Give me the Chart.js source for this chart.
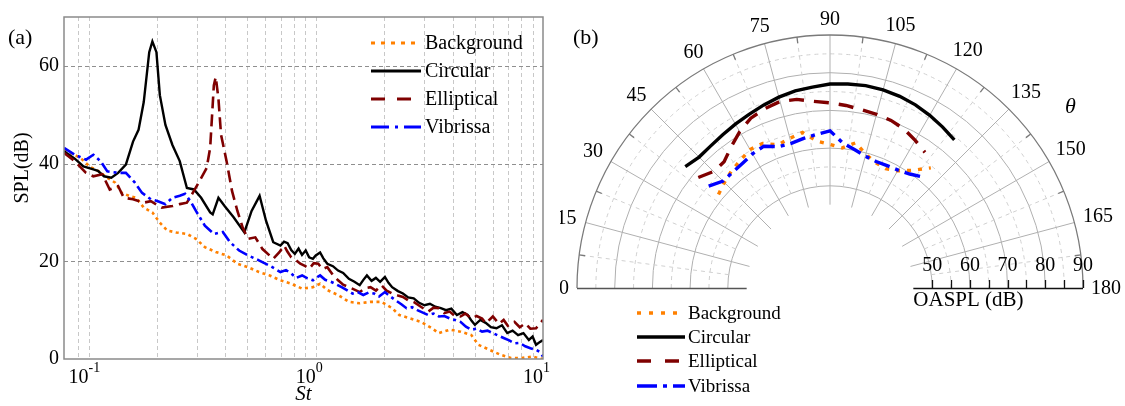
<!DOCTYPE html>
<html>
<head>
<meta charset="utf-8">
<script src="https://cdn.jsdelivr.net/npm/chart.js@4/dist/chart.umd.min.js"></script>
<style>
  html, body { margin: 0; padding: 0; background: #fff; }
  #wrap { position: relative; width: 1125px; height: 406px; }
  #chartA { position: absolute; left: 0; top: 0; }
  #chartB { position: absolute; left: 560px; top: 0; }
</style>
</head>
<body>
<div id="wrap">
  <canvas id="chartA" width="560" height="406"></canvas>
  <canvas id="chartB" width="565" height="406"></canvas>
</div>
<script>
// ---- panel (a): SPL spectra, [St, SPL dB] ----
const backgroundA = [[0.078,42.8],[0.087,41.8],[0.094,40.8],[0.101,39.4],[0.111,38.4],[0.121,37.1],[0.131,36.1],[0.14,34.0],[0.151,33.4],[0.162,33.0],[0.175,31.0],[0.191,30.0],[0.206,27.9],[0.222,26.3],[0.243,25.9],[0.271,25.6],[0.297,24.6],[0.325,22.9],[0.363,21.9],[0.405,21.2],[0.452,19.5],[0.503,18.8],[0.562,17.8],[0.627,17.1],[0.699,16.1],[0.78,15.4],[0.871,14.4],[0.971,14.7],[1.045,15.4],[1.124,14.1],[1.254,13.1],[1.399,11.7],[1.561,11.4],[1.741,11.7],[1.943,11.7],[2.168,10.4],[2.331,9.0],[2.601,8.3],[2.902,7.6],[3.238,6.3],[3.483,5.3],[3.885,6.0],[4.334,5.6],[4.835,4.9],[5.201,2.9],[5.802,1.9],[6.472,0.9],[7.221,0.2],[8.055,0.2],[8.986,0.5],[10,0.0]];
const circularA = [[0.078,42.5],[0.087,41.0],[0.095,39.4],[0.105,38.8],[0.11,38.5],[0.117,37.4],[0.126,37.1],[0.135,38.1],[0.146,39.8],[0.157,44.5],[0.166,46.9],[0.175,52.6],[0.185,62.8],[0.191,65.0],[0.199,62.8],[0.206,54.0],[0.218,47.9],[0.234,43.8],[0.252,40.5],[0.271,35.0],[0.291,34.7],[0.313,33.0],[0.343,30.0],[0.352,29.6],[0.373,33.0],[0.397,31.3],[0.435,29.0],[0.485,25.9],[0.522,30.3],[0.566,33.4],[0.604,28.3],[0.65,23.9],[0.699,23.2],[0.725,24.0],[0.752,23.7],[0.78,22.3],[0.809,21.5],[0.84,22.6],[0.87,21.3],[0.903,22.2],[0.935,20.8],[0.971,20.5],[1.0,21.2],[1.045,21.8],[1.08,20.6],[1.124,19.5],[1.19,19.0],[1.254,18.1],[1.32,17.6],[1.399,16.4],[1.48,15.8],[1.561,15.1],[1.62,16.2],[1.679,17.1],[1.76,16.0],[1.839,16.6],[1.92,15.8],[2.015,16.8],[2.09,15.6],[2.168,14.7],[2.3,13.9],[2.419,13.4],[2.55,12.6],[2.698,12.4],[2.85,11.5],[3.01,11.0],[3.18,11.3],[3.358,10.7],[3.55,10.4],[3.746,10.0],[3.95,10.3],[4.179,9.0],[4.42,9.6],[4.662,9.0],[4.85,7.8],[5.015,7.0],[5.3,8.0],[5.594,7.4],[5.9,6.5],[6.241,6.3],[6.6,6.9],[6.962,5.3],[7.35,5.8],[7.767,4.9],[8.2,5.3],[8.665,3.9],[9.0,4.6],[9.32,2.9],[9.7,3.5],[10,3.9]];
const ellipticalA = [[0.078,42.2],[0.087,40.5],[0.0975,38.1],[0.105,37.4],[0.115,37.8],[0.124,34.7],[0.135,35.4],[0.143,33.0],[0.157,32.7],[0.175,32.0],[0.188,32.3],[0.21,31.0],[0.234,31.3],[0.252,31.7],[0.271,32.0],[0.291,34.4],[0.313,37.0],[0.331,39.1],[0.343,43.2],[0.356,56.0],[0.363,57.7],[0.373,53.3],[0.383,45.9],[0.405,40.5],[0.428,34.4],[0.452,30.3],[0.477,26.9],[0.503,24.6],[0.542,24.9],[0.583,22.5],[0.65,20.5],[0.69,21.8],[0.726,23.2],[0.75,22.0],[0.78,20.8],[0.82,20.2],[0.855,19.5],[0.9,19.0],[0.937,18.5],[0.98,19.6],[1.026,19.5],[1.07,18.4],[1.124,18.8],[1.19,17.2],[1.254,16.1],[1.32,15.2],[1.399,14.7],[1.48,14.2],[1.561,13.7],[1.65,14.5],[1.741,14.7],[1.84,14.0],[1.943,15.1],[2.05,14.0],[2.168,13.4],[2.3,13.0],[2.419,12.7],[2.55,12.0],[2.698,11.7],[2.9,10.7],[3.122,9.7],[3.3,10.5],[3.483,10.4],[3.68,9.4],[3.885,9.7],[4.1,8.8],[4.334,8.7],[4.55,9.3],[4.835,8.3],[5.1,8.8],[5.394,8.3],[5.6,7.3],[6.017,8.7],[6.4,7.2],[6.713,8.0],[7.0,6.8],[7.489,7.6],[7.9,6.5],[8.354,7.3],[8.8,6.2],[9.32,6.3],[10,8.0]];
const vibrissaA = [[0.078,43.2],[0.087,41.8],[0.0975,40.8],[0.105,41.8],[0.113,40.5],[0.121,38.4],[0.135,38.1],[0.146,38.1],[0.16,36.1],[0.172,34.0],[0.188,32.7],[0.202,32.3],[0.218,31.7],[0.234,33.0],[0.252,33.4],[0.266,33.8],[0.281,32.3],[0.297,30.3],[0.325,27.3],[0.356,25.6],[0.39,26.0],[0.42,23.9],[0.46,22.2],[0.503,21.2],[0.562,20.2],[0.627,19.1],[0.699,17.8],[0.74,18.2],[0.78,17.5],[0.82,16.6],[0.871,17.1],[0.92,16.5],[0.971,16.1],[1.0,16.6],[1.045,17.1],[1.1,16.2],[1.166,15.8],[1.23,15.3],[1.3,14.7],[1.37,14.1],[1.451,13.4],[1.53,13.7],[1.619,13.1],[1.71,13.6],[1.806,13.4],[1.9,12.8],[2.015,13.7],[2.13,12.8],[2.248,12.0],[2.38,11.2],[2.508,10.4],[2.65,10.6],[2.798,10.0],[2.96,9.5],[3.122,9.0],[3.3,9.3],[3.483,8.7],[3.68,8.8],[3.885,8.3],[4.1,8.0],[4.334,7.6],[4.58,6.6],[4.835,6.0],[5.1,6.2],[5.394,5.6],[5.7,5.8],[6.017,5.3],[6.35,4.8],[6.713,4.3],[7.1,3.8],[7.489,3.2],[7.9,3.3],[8.354,2.6],[8.8,2.2],[9.32,1.9],[9.7,1.4],[10,0.5]];

const xGridA = [0.09,0.1,0.2,0.3,0.4,0.5,0.6,0.7,0.8,0.9,1,2,3,4,5,6,7,8,9];
const xLabelsA = [[0.1,'-1'],[1,'0'],[10,'1']];
const yGridA = [20,40,60];

// ---- panel (b): directivity, [theta deg, OASPL dB] ----
const backgroundB = [[40,61.5],[45,62.5],[50,63.5],[55,64.3],[60,65.3],[65,65.2],[70,63.3],[75,64.0],[80,64.8],[85,62.0],[90,61.0],[95,60.2],[100,62.0],[105,59.6],[110,58.3],[115,57.8],[120,58.8],[125,61.0],[130,64.5]];
const circularB = [[40,73.0],[45,72.0],[50,72.1],[55,72.5],[60,73.1],[65,73.7],[70,74.5],[75,75.3],[80,76.0],[85,76.4],[90,77.0],[95,77.2],[100,77.4],[105,77.3],[110,77.0],[115,76.5],[120,75.8],[125,75.0],[130,74.2]];
const ellipticalB = [[40,68.5],[45,66.6],[50,66.6],[55,68.6],[60,70.8],[65,72.6],[70,73.5],[75,74.1],[80,73.7],[85,72.6],[90,72.0],[95,71.5],[100,70.9],[105,70.6],[110,70.2],[115,69.4],[120,68.1],[125,66.8]];
const vibrissaB = [[40,64.9],[45,63.0],[50,63.0],[55,63.3],[60,64.0],[65,64.4],[70,62.8],[75,62.6],[80,63.2],[85,63.8],[90,64.6],[95,61.5],[100,60.2],[105,59.1],[110,58.6],[115,58.7],[120,59.0],[125,59.8],[130,61.3]];

const angleTicks = [0,15,30,45,60,75,90,105,120,135,150,165,180];
const ringLevels = [50,55,60,65,70,75,80,85,90];
const oasplTicks = [50,55,60,65,70,75,80,85,90];
const oasplLabels = [50,60,70,80,90];
const R0 = 22.9;          // OASPL at the pole
const rHole = 45, rMax = 90;

const names = ['Background','Circular','Elliptical','Vibrissa'];
const colors = ['#ff8000','#000000','#7f0000','#0000ff'];
const dashA = [[3,3.5],[],[12,6],[12,4,3,4]];
const dashB = [[4,7],[],[15,10],[16,6,4,6]];
const legDashA = [[4,6],[],[14,12],[18,6,3,6]];
const legDashB = [[4,8],[],[14,14],[20,6,4,6]];

const SERIF = "'Liberation Serif', 'Times New Roman', serif";

function drawLegend(ctx, x0, x1, tx, ys, dashes, lw, size) {
  ctx.save();
  ctx.font = size + 'px ' + SERIF;
  ctx.textBaseline = 'middle';
  ctx.textAlign = 'left';
  names.forEach((n, i) => {
    ctx.strokeStyle = colors[i];
    ctx.lineWidth = lw;
    ctx.setLineDash(dashes[i]);
    ctx.beginPath(); ctx.moveTo(x0, ys[i]); ctx.lineTo(x1, ys[i]); ctx.stroke();
    ctx.setLineDash([]);
    ctx.fillStyle = '#000';
    ctx.fillText(n, tx, ys[i] + 1);
  });
  ctx.restore();
}

// ---------- chart (a) ----------
const panelA = {
  id: 'panelA',
  beforeDatasetsDraw(chart) {
    const {ctx, chartArea: a, scales: {x, y}} = chart;
    ctx.save();
    ctx.lineWidth = 1;
    ctx.setLineDash([4, 3]);
    ctx.strokeStyle = '#c8c8c8';
    xGridA.forEach(v => {
      const px = Math.round(x.getPixelForValue(v)) + 0.5;
      ctx.beginPath(); ctx.moveTo(px, a.top); ctx.lineTo(px, a.bottom); ctx.stroke();
    });
    ctx.strokeStyle = '#8f8f8f';
    yGridA.forEach(v => {
      const py = Math.round(y.getPixelForValue(v)) + 0.5;
      ctx.beginPath(); ctx.moveTo(a.left, py); ctx.lineTo(a.right, py); ctx.stroke();
    });
    ctx.restore();
  },
  afterDraw(chart) {
    const {ctx, chartArea: a, scales: {x}} = chart;
    ctx.save();
    ctx.strokeStyle = '#8a8a8a';
    ctx.lineWidth = 1.5;
    ctx.strokeRect(a.left, a.top, a.width, a.height);
    ctx.fillStyle = '#000';
    xLabelsA.forEach(([v, e]) => {
      const px = x.getPixelForValue(v);
      ctx.font = '20px ' + SERIF;
      ctx.textAlign = 'right';
      ctx.textBaseline = 'alphabetic';
      ctx.fillText('10', px, 383);
      ctx.font = '14px ' + SERIF;
      ctx.textAlign = 'left';
      ctx.fillText(e, px, 372);
    });
    ctx.font = 'italic 21px ' + SERIF;
    ctx.textAlign = 'center';
    ctx.textBaseline = 'middle';
    ctx.fillText('St', (a.left + a.right) / 2, 394);
    ctx.font = '20px ' + SERIF;
    ctx.translate(23, 168);
    ctx.rotate(-Math.PI / 2);
    ctx.fillText('SPL(dB)', 0, 0);
    ctx.restore();
    ctx.save();
    ctx.font = '22px ' + SERIF;
    ctx.fillStyle = '#000';
    ctx.textBaseline = 'middle';
    ctx.fillText('(a)', 8, 38);
    ctx.restore();
    drawLegend(ctx, 371, 421, 425, [43, 71, 99, 127], legDashA, 2.8, 20);
  }
};

const seriesA = [backgroundA, circularA, ellipticalA, vibrissaA];
new Chart(document.getElementById('chartA'), {
  type: 'line',
  data: {
    datasets: seriesA.map((s, i) => ({
      label: names[i],
      data: s.map(p => ({x: p[0], y: p[1]})),
      borderColor: colors[i],
      borderWidth: i === 1 ? 2.4 : 2.6,
      borderDash: dashA[i],
      pointRadius: 0,
      tension: 0,
      fill: false
    })).reverse()
  },
  options: {
    responsive: false,
    animation: false,
    layout: {padding: {top: 15, right: 17, left: 0, bottom: 0}},
    plugins: {legend: {display: false}, tooltip: {enabled: false}},
    scales: {
      x: {
        type: 'logarithmic', min: 0.078, max: 10,
        grid: {display: false, drawTicks: false}, border: {display: false},
        ticks: {callback: () => ''},
        afterFit: s => { s.height = 47; }
      },
      y: {
        min: 0, max: 70,
        grid: {display: false, drawTicks: false, tickLength: 0}, border: {display: false},
        ticks: {
          stepSize: 10, padding: 5, color: '#000',
          font: {family: SERIF, size: 20},
          callback: v => (v % 20 === 0 && v < 70) ? String(v) : ''
        },
        afterFit: s => { s.width = 64; }
      }
    }
  },
  plugins: [panelA]
});

// ---------- chart (b) ----------
const toXY = p => {
  const t = p[0] * Math.PI / 180, r = p[1] - R0;
  return {x: -r * Math.cos(t), y: r * Math.sin(t)};
};

const panelB = {
  id: 'panelB',
  beforeDatasetsDraw(chart) {
    const {ctx, scales: {x, y}} = chart;
    const cx = x.getPixelForValue(0), cy = y.getPixelForValue(0);
    const k = x.getPixelForValue(1) - cx;
    const rad = v => (v - R0) * k;
    const pt = (deg, r) => [cx - r * Math.cos(deg * Math.PI / 180), cy - r * Math.sin(deg * Math.PI / 180)];
    ctx.save();
    ctx.lineWidth = 1;
    // rings
    ringLevels.forEach(v => {
      if (v === rMax) return;
      const solid = v % 10 === 0;
      ctx.setLineDash(solid ? [] : [4, 4]);
      ctx.strokeStyle = solid ? '#b0b0b0' : '#d0d0d0';
      ctx.beginPath(); ctx.arc(cx, cy, rad(v), Math.PI, 2 * Math.PI); ctx.stroke();
    });
    // spokes
    for (let d = 7.5; d < 180; d += 7.5) {
      const major = d % 15 === 0;
      ctx.setLineDash(major ? [] : [4, 4]);
      ctx.strokeStyle = major ? '#b0b0b0' : '#d0d0d0';
      const p0 = pt(d, rad(major ? rHole : 50)), p1 = pt(d, rad(rMax));
      ctx.beginPath(); ctx.moveTo(p0[0], p0[1]); ctx.lineTo(p1[0], p1[1]); ctx.stroke();
    }
    ctx.setLineDash([]);
    // outer ring + small ticks
    ctx.strokeStyle = '#7a7a7a';
    ctx.lineWidth = 1.3;
    ctx.beginPath(); ctx.arc(cx, cy, rad(rMax), Math.PI, 2 * Math.PI); ctx.stroke();
    for (let d = 7.5; d < 180; d += 15) {
      const p0 = pt(d, rad(rMax) - 6), p1 = pt(d, rad(rMax));
      ctx.beginPath(); ctx.moveTo(p0[0], p0[1]); ctx.lineTo(p1[0], p1[1]); ctx.stroke();
    }
    // baselines
    ctx.strokeStyle = '#555';
    ctx.beginPath(); ctx.moveTo(cx - rad(rMax), cy + 0.5); ctx.lineTo(cx - rad(rHole), cy + 0.5); ctx.stroke();
    ctx.strokeStyle = '#111';
    ctx.beginPath(); ctx.moveTo(cx + rad(rHole), cy + 0.5); ctx.lineTo(cx + rad(rMax), cy + 0.5); ctx.stroke();
    oasplTicks.forEach(v => {
      const px = Math.round(cx + rad(v)) + 0.5;
      ctx.beginPath(); ctx.moveTo(px, cy); ctx.lineTo(px, cy - 8); ctx.stroke();
    });
    ctx.restore();
  },
  afterDraw(chart) {
    const {ctx, scales: {x, y}} = chart;
    const cx = x.getPixelForValue(0), cy = y.getPixelForValue(0);
    const k = x.getPixelForValue(1) - cx;
    const rad = v => (v - R0) * k;
    ctx.save();
    ctx.fillStyle = '#000';
    ctx.textAlign = 'center';
    ctx.textBaseline = 'middle';
    ctx.font = '20px ' + SERIF;
    angleTicks.forEach(d => {
      const t = d * Math.PI / 180, s = String(d);
      const w = ctx.measureText(s).width;
      const r = rad(rMax) + 8 + Math.abs(Math.cos(t)) * w / 2 + Math.sin(t) * 8;
      ctx.fillText(s, cx - r * Math.cos(t), cy - r * Math.sin(t) + 1);
    });
    oasplLabels.forEach(v => ctx.fillText(String(v), cx + rad(v), cy - 22));
    ctx.textAlign = 'left';
    ctx.font = '21px ' + SERIF;
    ctx.fillText('OASPL (dB)', cx + rad(rHole), cy + 12);
    ctx.font = 'italic 22px ' + SERIF;
    ctx.fillText('\u03b8', 505, 107);
    ctx.font = '22px ' + SERIF;
    ctx.fillText('(b)', 13, 38);
    ctx.restore();
    drawLegend(ctx, 77, 125, 128, [313, 337, 361, 386], legDashB, 3.5, 19);
  }
};

const seriesB = [backgroundB, circularB, ellipticalB, vibrissaB];
const span = rMax - R0;
new Chart(document.getElementById('chartB'), {
  type: 'line',
  data: {
    datasets: seriesB.map((s, i) => ({
      label: names[i],
      data: s.map(toXY),
      borderColor: colors[i],
      borderWidth: 3.4,
      borderDash: dashB[i],
      pointRadius: 0,
      tension: 0,
      fill: false
    })).reverse()
  },
  options: {
    responsive: false,
    animation: false,
    layout: {padding: {left: 17, right: 42, top: 35, bottom: 118}},
    plugins: {legend: {display: false}, tooltip: {enabled: false}},
    scales: {
      x: {type: 'linear', min: -span, max: span, display: false},
      y: {type: 'linear', min: 0, max: span, display: false}
    }
  },
  plugins: [panelB]
});
</script>
</body>
</html>
